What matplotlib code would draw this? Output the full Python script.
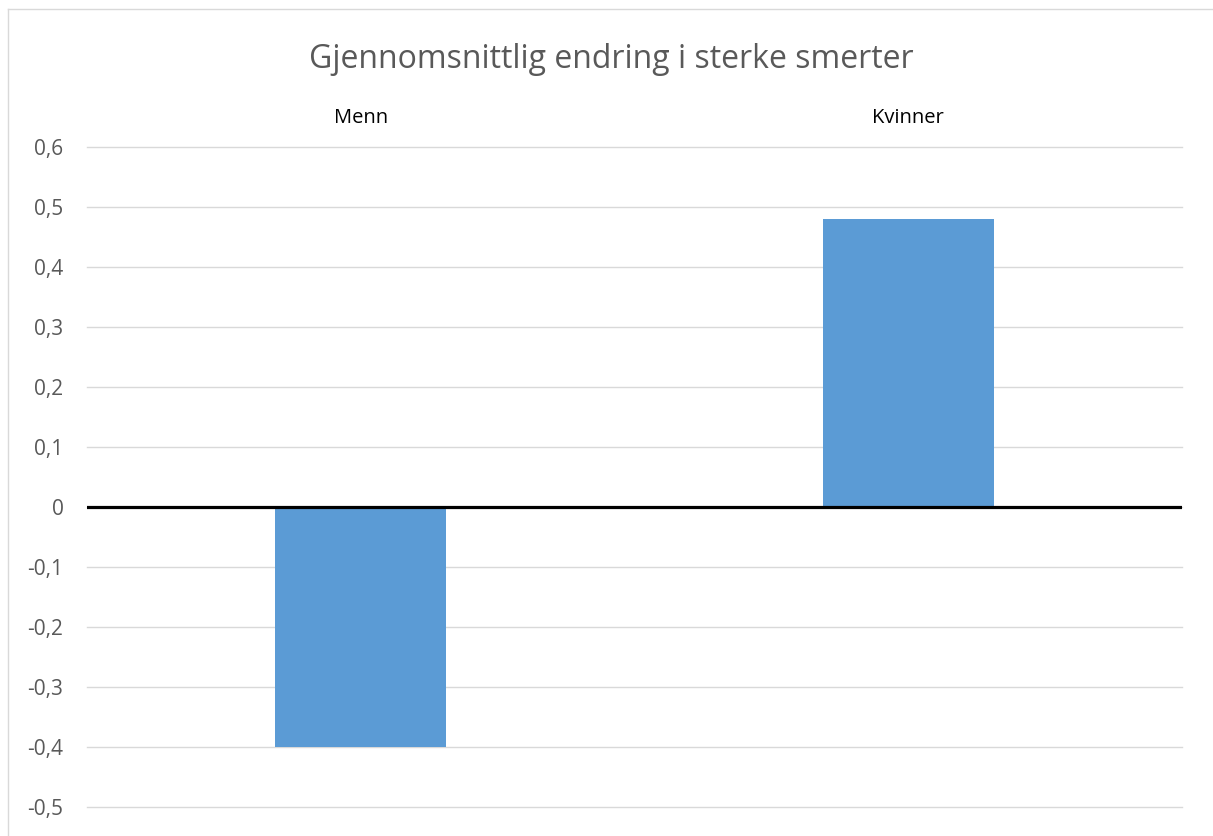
# mean change in severe pain, men vs women (Excel style column chart)

import numpy as np
import matplotlib.pyplot as plt
from matplotlib.lines import Line2D
from matplotlib.ticker import FuncFormatter

categories = ["Menn", "Kvinner"]
values = [-0.40, 0.48]
yticks = [-0.5, -0.4, -0.3, -0.2, -0.1, 0, 0.1, 0.2, 0.3, 0.4, 0.5, 0.6]

W, H = 1213, 836
plt.rcParams['font.family'] = ['Open Sans', 'DejaVu Sans']

fig = plt.figure(figsize=(W/100, H/100), dpi=100)
# plot area runs off the bottom of the picture
ax = fig.add_axes([87/W, 0, (1182-87)/W, (836-147)/H])

x = np.arange(len(categories))
ax.bar(x, values, width=0.312, color="#5b9bd5", zorder=3)
ax.axhline(0, color="black", lw=2.3, zorder=4)

ax.set_xlim(-0.5, len(categories)-0.5)
ax.set_ylim(-0.5 - 29/600, 0.6)
ax.set_yticks(yticks)
ax.yaxis.set_major_formatter(FuncFormatter(
    lambda v, p: "0" if abs(v) < 1e-9 else ("%.1f" % v).replace(".", ",")))
ax.grid(axis="y", color="#d9d9d9", lw=1.0, zorder=0)
for g in ax.get_ygridlines():
    g.set_clip_on(False)
ax.tick_params(axis="y", length=0, pad=17, labelsize=15, labelcolor="#595959")
ax.set_xticks([])
for s in ax.spines.values():
    s.set_visible(False)

# category labels sit above the plot area
for xi, name in zip(x, categories):
    ax.text(xi, 0.6 + 29/600, name, ha="center", va="center",
            fontsize=14.5, color="black", clip_on=False)

fig.text(611/W, 1-60/H, "Gjennomsnittlig endring i sterke smerter",
         ha="center", va="center", fontsize=23, color="#595959")

# chart border (cropped on right and bottom)
fig.add_artist(Line2D([8/W, 1], [1-9/H, 1-9/H], color="#d9d9d9", lw=1))
fig.add_artist(Line2D([8/W, 8/W], [0, 1-9/H], color="#d9d9d9", lw=1))

plt.savefig("out.png", dpi=100)
